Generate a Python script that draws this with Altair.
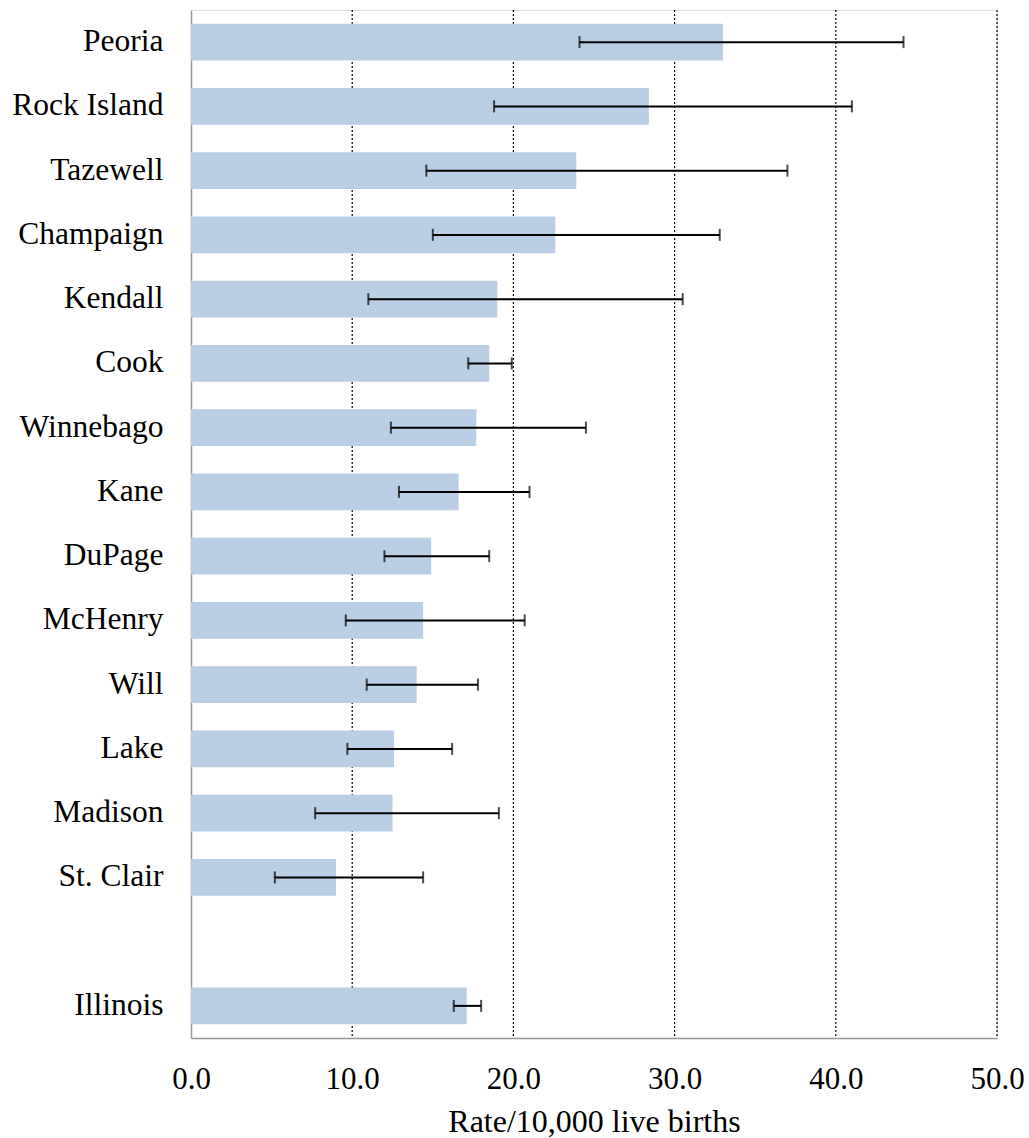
import altair as alt
import pandas as pd

# Rates per 10,000 live births with 95% confidence limits
areas = ["Peoria", "Rock Island", "Tazewell", "Champaign", "Kendall", "Cook",
         "Winnebago", "Kane", "DuPage", "McHenry", "Will", "Lake", "Madison",
         "St. Clair", "Illinois"]
rates = [33.0, 28.4, 23.9, 22.6, 19.0, 18.5, 17.7, 16.6, 14.9, 14.4, 14.0,
         12.6, 12.5, 9.0, 17.1]
lower = [24.1, 18.8, 14.6, 15.0, 11.0, 17.2, 12.4, 12.9, 12.0, 9.6, 10.9,
         9.7, 7.7, 5.2, 16.3]
upper = [44.2, 41.0, 37.0, 32.8, 30.5, 19.9, 24.5, 21.0, 18.5, 20.7, 17.8,
         16.2, 19.1, 14.4, 18.0]
grid_values = [10, 20, 30, 40, 50]

# blank slot separates the counties from the state total
order = areas[:-1] + [" "] + areas[-1:]

df = pd.DataFrame({"area": areas, "rate": rates, "lo": lower, "hi": upper})
grid_df = pd.DataFrame({"v": grid_values})

FONT = "Liberation Serif"
W, H = 806, 1028

x_scale = alt.Scale(domain=[0, 50], nice=False)
y_scale = alt.Scale(domain=order, paddingInner=0.43, paddingOuter=0.215)

y_enc = alt.Y(
    "area:N", scale=y_scale, title=None,
    axis=alt.Axis(labelFont=FONT, labelFontSize=31.5, labelColor="black",
                  labelPadding=28, ticks=False, domainColor="#969696",
                  domainWidth=1.5, labelLimit=400),
)

grid = alt.Chart(grid_df).mark_rule(
    color="black", strokeDash=[2, 2], strokeWidth=1.2
).encode(
    x=alt.X("v:Q", scale=x_scale,
            axis=alt.Axis(values=[0, 10, 20, 30, 40, 50], format=".1f",
                          labelFont=FONT, labelFontSize=31, labelColor="black",
                          labelPadding=26, labelFlush=False, ticks=False,
                          grid=False, domainColor="#969696", domainWidth=1.5,
                          title="Rate/10,000 live births", titleFont=FONT,
                          titleFontSize=32, titleFontWeight="normal",
                          titleColor="black", titlePadding=12)),
    y=alt.value(0),
    y2=alt.value(H),
)

bars = alt.Chart(df).mark_bar(color="#B9CDE5").encode(
    x=alt.X("rate:Q", scale=x_scale),
    y=y_enc,
)

err = alt.Chart(df).mark_rule(color="black", strokeWidth=2).encode(
    x=alt.X("lo:Q", scale=x_scale),
    x2="hi:Q",
    y=alt.Y("area:N", scale=y_scale),
)

cap_lo = alt.Chart(df).mark_tick(
    color="black", thickness=2, size=12, orient="vertical"
).encode(x=alt.X("lo:Q", scale=x_scale), y=alt.Y("area:N", scale=y_scale))

cap_hi = alt.Chart(df).mark_tick(
    color="black", thickness=2, size=12, orient="vertical"
).encode(x=alt.X("hi:Q", scale=x_scale), y=alt.Y("area:N", scale=y_scale))

chart = alt.layer(grid, bars, err, cap_lo, cap_hi).properties(
    width=W, height=H,
    autosize=alt.AutoSizeParams(type="none"),
    padding={"left": 191, "top": 10, "right": 32, "bottom": 100},
).configure_view(stroke=None).configure(background="white")

chart.save("out.html", embed_options={"renderer": "svg", "actions": False})
